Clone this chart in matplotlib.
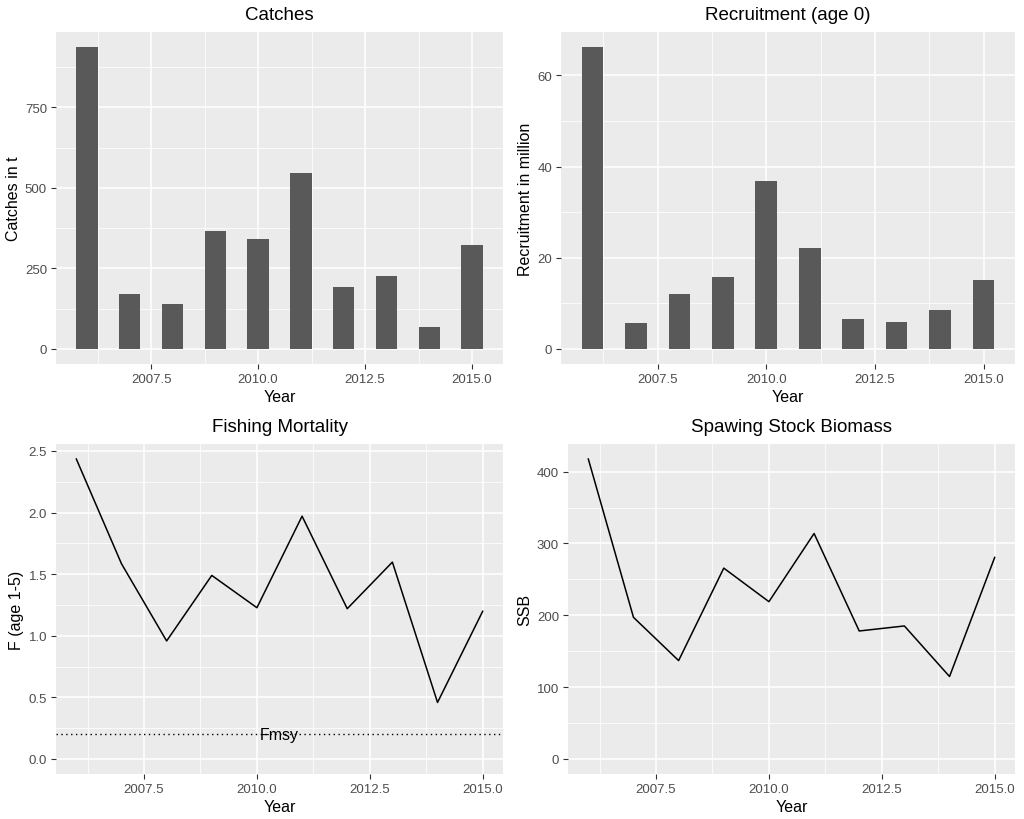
import matplotlib
matplotlib.use("Agg")
import matplotlib.pyplot as plt
from matplotlib.ticker import FixedLocator, FormatStrFormatter

plt.rcParams["font.family"] = ["Liberation Sans", "DejaVu Sans"]

# ---------------- data ----------------
years = [2006, 2007, 2008, 2009, 2010, 2011, 2012, 2013, 2014, 2015]
catches = [937, 169, 138, 367, 340, 545, 193, 227, 69, 323]
recruitment = [66.2, 5.7, 12.1, 15.8, 36.8, 22.2, 6.6, 5.9, 8.5, 15.2]
fishing_mort = [2.435, 1.585, 0.958, 1.49, 1.228, 1.971, 1.22, 1.598, 0.459, 1.199]
ssb = [417.6, 197.2, 137, 265.7, 219, 313.9, 178.2, 185.2, 114.8, 280.6]
fmsy = 0.2

x_major = [2007.5, 2010.0, 2012.5, 2015.0]
x_minor = [2006.25, 2008.75, 2011.25, 2013.75]

BG = "#EBEBEB"
BAR = "#595959"
TICK_TXT = "#4D4D4D"

W, H = 1024, 820
fig = plt.figure(figsize=(W / 100, H / 100), dpi=100)
fig.patch.set_facecolor("white")


def make_ax(left, top, right, bottom):
    # pixel box -> figure fraction
    return fig.add_axes([left / W, 1 - bottom / H, (right - left) / W, (bottom - top) / H])


def style(ax, title, ylabel, y_major, y_minor, yfmt):
    ax.set_facecolor(BG)
    for s in ax.spines.values():
        s.set_visible(False)
    ax.xaxis.set_major_locator(FixedLocator(x_major))
    ax.xaxis.set_minor_locator(FixedLocator(x_minor))
    ax.yaxis.set_major_locator(FixedLocator(y_major))
    ax.yaxis.set_minor_locator(FixedLocator(y_minor))
    ax.xaxis.set_major_formatter(FormatStrFormatter("%.1f"))
    ax.yaxis.set_major_formatter(FormatStrFormatter(yfmt))
    ax.grid(True, which="major", color="white", linewidth=1.1)
    ax.grid(True, which="minor", color="white", linewidth=0.55)
    ax.set_axisbelow(True)
    ax.tick_params(which="major", length=3.5, width=0.8, color="#333333",
                   labelsize=9.5, labelcolor=TICK_TXT, pad=3)
    ax.tick_params(which="minor", length=0)
    ax.set_title(title, fontsize=13.5, pad=9)
    ax.set_xlabel("Year", fontsize=11.5, labelpad=3)
    ax.set_ylabel(ylabel, fontsize=11.5, labelpad=3)


# --- Catches ---
ax1 = make_ax(56, 33, 503, 365)
ax1.bar(years, catches, width=0.5, color=BAR)
ax1.set_xlim(2005.275, 2015.725)
ax1.set_ylim(-0.05 * max(catches), 1.05 * max(catches))
style(ax1, "Catches", "Catches in t", [0, 250, 500, 750], [125, 375, 625, 875], "%d")

# --- Recruitment ---
ax2 = make_ax(561, 33, 1015, 365)
ax2.bar(years, recruitment, width=0.5, color=BAR)
ax2.set_xlim(2005.275, 2015.725)
ax2.set_ylim(-0.05 * max(recruitment), 1.05 * max(recruitment))
style(ax2, "Recruitment (age 0)", "Recruitment in million", [0, 20, 40, 60], [10, 30, 50], "%d")

# --- Fishing Mortality ---
ax3 = make_ax(56, 445, 503, 775)
ax3.plot(years, fishing_mort, color="black", linewidth=1.1)
ax3.axhline(fmsy, color="black", linestyle=(0, (1, 2.5)), linewidth=1.0)
ax3.text((years[0] + years[-1]) / 2, fmsy, "Fmsy", ha="center", va="center", fontsize=11.5)
ax3.set_xlim(2005.55, 2015.45)
ax3.set_ylim(-0.05 * max(fishing_mort), 1.05 * max(fishing_mort))
style(ax3, "Fishing Mortality", "F (age 1-5)", [0, 0.5, 1.0, 1.5, 2.0, 2.5],
      [0.25, 0.75, 1.25, 1.75, 2.25], "%.1f")

# --- SSB ---
ax4 = make_ax(568, 445, 1015, 775)
ax4.plot(years, ssb, color="black", linewidth=1.1)
ax4.set_xlim(2005.55, 2015.45)
ax4.set_ylim(-0.05 * max(ssb), 1.05 * max(ssb))
style(ax4, "Spawing Stock Biomass", "SSB", [0, 100, 200, 300, 400], [50, 150, 250, 350], "%d")

fig.savefig("out.png", dpi=100)
